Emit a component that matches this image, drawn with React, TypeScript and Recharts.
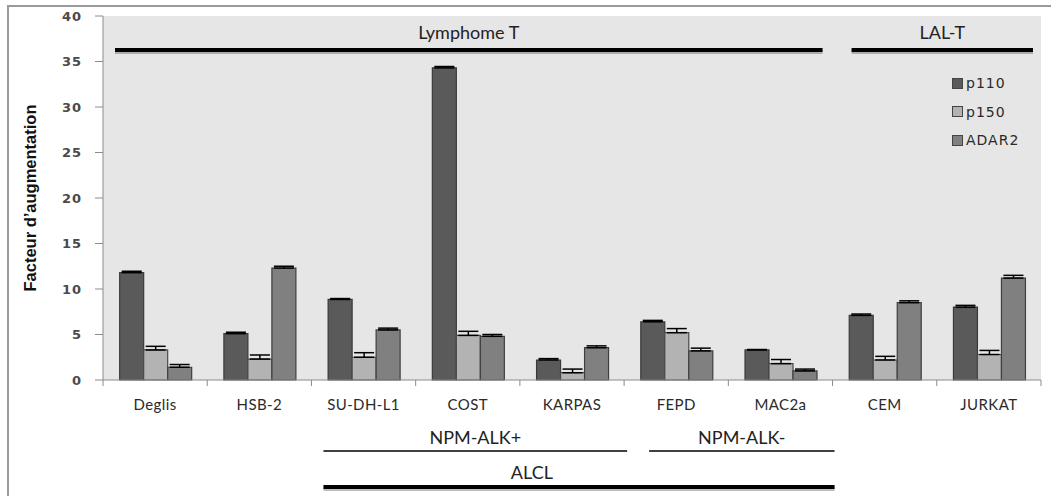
import React from "react";
import { BarChart, Bar, XAxis, YAxis, CartesianGrid, ErrorBar, Legend } from "recharts";

// cell lines on the x axis
const cellLines = ["Deglis", "HSB-2", "SU-DH-L1", "COST", "KARPAS", "FEPD", "MAC2a", "CEM", "JURKAT"];

// fold increase per isoform
const p110 = [11.8, 5.1, 8.85, 34.3, 2.2, 6.4, 3.3, 7.1, 8.0];
const p110Err = [0.15, 0.15, 0.1, 0.15, 0.15, 0.15, 0.05, 0.15, 0.2];
const p150 = [3.3, 2.3, 2.5, 4.9, 0.8, 5.2, 1.8, 2.2, 2.8];
const p150Err = [0.4, 0.45, 0.5, 0.45, 0.4, 0.45, 0.45, 0.4, 0.45];
const adar2 = [1.4, 12.3, 5.5, 4.8, 3.55, 3.2, 1.0, 8.5, 11.2];
const adar2Err = [0.3, 0.2, 0.2, 0.2, 0.2, 0.3, 0.2, 0.2, 0.3];

const seriesOrder = ["p110", "p150", "ADAR2"];
const yTicks = [0, 5, 10, 15, 20, 25, 30, 35, 40];

// group brackets: category index ranges
const topGroups = [
  { label: "Lymphome T", from: 0, to: 6 },
  { label: "LAL-T", from: 7, to: 8 },
];
const subGroups = [
  { label: "NPM-ALK+", from: 2, to: 4 },
  { label: "NPM-ALK-", from: 5, to: 6 },
];
const bottomGroups = [{ label: "ALCL", from: 2, to: 6 }];

const data = cellLines.map((name, i) => ({
  name,
  p110: p110[i],
  p110Err: [0, p110Err[i]],
  p150: p150[i],
  p150Err: [0, p150Err[i]],
  ADAR2: adar2[i],
  adar2Err: [0, adar2Err[i]],
}));

const W = 1051;
const H = 496;
const PLOT_LEFT = 103;
const PLOT_RIGHT = 1041;
const PLOT_TOP = 16;
const PLOT_BOTTOM = 380;
const BAND = (PLOT_RIGHT - PLOT_LEFT) / cellLines.length;
const edge = (i: number) => PLOT_LEFT + BAND * i;

const CategoryTick = (props: any) => {
  const { x, payload, index } = props;
  const bx = x - BAND / 2;
  return (
    <g>
      <line x1={bx} x2={bx} y1={PLOT_BOTTOM} y2={PLOT_BOTTOM + 6} stroke="#8c8c8c" />
      {index === cellLines.length - 1 && (
        <line x1={x + BAND / 2} x2={x + BAND / 2} y1={PLOT_BOTTOM} y2={PLOT_BOTTOM + 6} stroke="#8c8c8c" />
      )}
      <text
        x={x}
        y={PLOT_BOTTOM + 30}
        textAnchor="middle"
        fontFamily="Lato"
        fontSize={15}
        letterSpacing={0.4}
        fill="#2a2a2a"
      >
        {payload.value}
      </text>
    </g>
  );
};

const LegendContent = ({ payload }: any) => {
  const items = [...(payload || [])].sort(
    (a: any, b: any) => seriesOrder.indexOf(a.value) - seriesOrder.indexOf(b.value)
  );
  return (
    <div style={{ fontFamily: "DejaVu Sans", fontSize: 14, letterSpacing: 1, color: "#2a2a2a" }}>
      {items.map((p: any) => (
        <div key={p.value} style={{ display: "flex", alignItems: "center", height: 28.5 }}>
          <span
            style={{
              display: "inline-block",
              width: 9,
              height: 9,
              background: p.color,
              border: "1px solid #444",
              marginRight: 3,
            }}
          />
          <span>{p.value}</span>
        </div>
      ))}
    </div>
  );
};

const Bracket = ({ x1, x2, y, label, textX, textY, thick }: any) => (
  <g>
    {thick && <line x1={x1} x2={x2} y1={y + 2} y2={y + 2} stroke="#000" strokeOpacity={0.25} strokeWidth={4} />}
    <line x1={x1} x2={x2} y1={y} y2={y} stroke="#000" strokeWidth={thick ? 4 : 1.3} />
    <text x={textX ?? (x1 + x2) / 2} y={textY} textAnchor="middle" fontFamily="Lato" fontSize={18} fill="#222">
      {label}
    </text>
  </g>
);

const Annotations = () => (
  <svg width={W} height={H} style={{ position: "absolute", left: 0, top: 0, pointerEvents: "none" }}>
    <Bracket label={topGroups[0].label} x1={edge(topGroups[0].from) + 12} x2={edge(topGroups[0].to + 1) - 10} y={50} textY={39} thick />
    <Bracket label={topGroups[1].label} x1={edge(topGroups[1].from) + 19} x2={edge(topGroups[1].to + 1) - 8} y={50} textY={39} thick />
    <Bracket label={subGroups[0].label} x1={edge(subGroups[0].from) + 12} x2={edge(subGroups[0].to + 1) + 3} y={451} textY={444} />
    <Bracket label={subGroups[1].label} x1={edge(subGroups[1].from) + 25} x2={edge(subGroups[1].to + 1) + 2} y={451} textY={444} />
    <Bracket
      label={bottomGroups[0].label}
      x1={edge(bottomGroups[0].from) + 12}
      x2={edge(bottomGroups[0].to + 1) + 2}
      y={487}
      textX={edge(4) + 12}
      textY={479}
      thick
    />
  </svg>
);

export default function App() {
  return (
    <div style={{ position: "absolute", left: 0, top: 0, width: W, height: H, overflow: "hidden", background: "#fff" }}>
      <div
        style={{
          position: "absolute",
          left: 7,
          top: 5,
          width: 1100,
          height: 600,
          borderTop: "2px solid #9a9a9a",
          borderLeft: "2px solid #9a9a9a",
        }}
      />
      <div style={{ position: "absolute", left: 0, top: 0 }}>
        <BarChart
          width={W}
          height={H}
          data={data}
          margin={{ top: PLOT_TOP, right: W - PLOT_RIGHT, bottom: H - PLOT_BOTTOM - 30, left: 25 }}
          barCategoryGap="16%"
          barGap={0}
        >
          <CartesianGrid horizontal={false} vertical={false} fill="#e6e6e6" />
          <XAxis
            dataKey="name"
            height={30}
            axisLine={{ stroke: "#8c8c8c" }}
            tickLine={false}
            tick={<CategoryTick />}
            interval={0}
          />
          <YAxis
            width={PLOT_LEFT - 25}
            domain={[0, 40]}
            ticks={yTicks}
            axisLine={{ stroke: "#8c8c8c" }}
            tickLine={{ stroke: "#8c8c8c" }}
            tickSize={8}
            tickMargin={13}
            tick={{ fontFamily: "DejaVu Sans", fontSize: 13, fontWeight: "bold", fill: "#4a4a4a", letterSpacing: 1 }}
            label={{
              value: "Facteur d’augmentation",
              angle: -90,
              position: "insideLeft",
              offset: 5,
              style: {
                textAnchor: "middle",
                fontFamily: "Liberation Sans",
                fontWeight: "bold",
                fontSize: 16.5,
                fill: "#111",
              },
            }}
          />
          <Legend
            layout="vertical"
            align="center"
            verticalAlign="middle"
            wrapperStyle={{ left: 952, top: 69, width: 95 }}
            content={<LegendContent />}
          />
          <Bar dataKey="p110" fill="#5a5a5a" stroke="#3a3a3a" strokeWidth={1.2} isAnimationActive={false}>
            <ErrorBar dataKey="p110Err" direction="y" width={10} stroke="#000" strokeWidth={1.5} />
          </Bar>
          <Bar dataKey="p150" fill="#b3b3b3" stroke="#4a4a4a" strokeWidth={1.2} isAnimationActive={false}>
            <ErrorBar dataKey="p150Err" direction="y" width={10} stroke="#000" strokeWidth={1.5} />
          </Bar>
          <Bar dataKey="ADAR2" name="ADAR2" fill="#808080" stroke="#3f3f3f" strokeWidth={1.2} isAnimationActive={false}>
            <ErrorBar dataKey="adar2Err" direction="y" width={10} stroke="#000" strokeWidth={1.5} />
          </Bar>
        </BarChart>
      </div>
      <Annotations />
    </div>
  );
}
